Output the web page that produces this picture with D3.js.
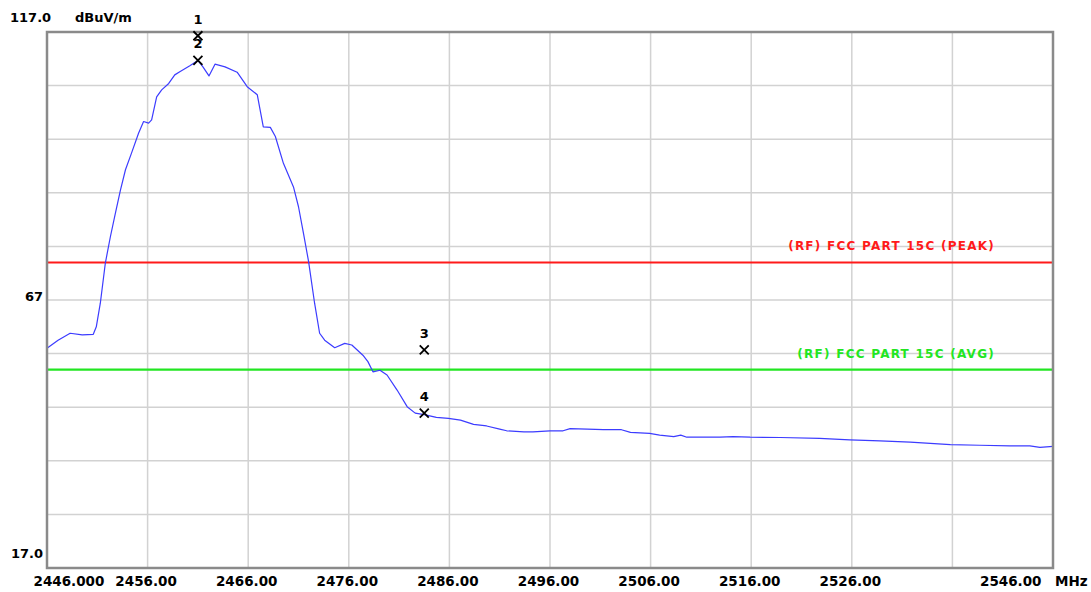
<!DOCTYPE html>
<html>
<head>
<meta charset="utf-8">
<script src="https://cdn.jsdelivr.net/npm/d3@7"></script>
<style>
  html, body { margin: 0; padding: 0; background: #ffffff; }
  svg { display: block; }
</style>
</head>
<body>
<svg id="chart" width="1091" height="592"></svg>
<script>
// Spectrum sweep, 2446 – 2546 MHz, field strength in dBuV/m
const freqMHz = [
  2446.0, 2447.1, 2448.3, 2449.5, 2450.6, 2450.9, 2451.3, 2451.8, 2452.3, 2452.8,
  2453.3, 2453.8, 2454.4, 2455.1, 2455.6, 2456.1, 2456.4, 2456.9, 2457.4, 2458.1,
  2458.7, 2459.2, 2460.2, 2461.0, 2461.5, 2462.1, 2462.7, 2463.7, 2464.9, 2465.9,
  2466.9, 2467.5, 2468.2, 2468.7, 2469.5, 2470.5, 2471.0, 2471.5, 2472.0, 2472.6,
  2473.1, 2473.6, 2474.6, 2475.6, 2476.3, 2477.4, 2477.9, 2478.4, 2479.1, 2479.8,
  2480.8, 2481.8, 2482.6, 2483.5, 2484.7, 2485.9, 2487.1, 2488.4, 2489.7, 2491.0,
  2491.7, 2493.4, 2494.3, 2496.0, 2497.3, 2498.0, 2499.7, 2501.3, 2503.1, 2504.0,
  2505.9, 2506.9, 2508.3, 2509.0, 2509.6, 2510.2, 2512.9, 2514.2, 2515.9, 2518.9,
  2522.8, 2525.8, 2528.8, 2531.8, 2535.8, 2538.7, 2541.7, 2543.7, 2544.7, 2546.0
];
const levelDb = [
  58.0, 59.5, 60.8, 60.5, 60.6, 62.0, 66.4, 73.9, 78.8, 83.2,
  87.5, 91.3, 94.4, 98.1, 100.3, 100.0, 100.6, 104.9, 106.2, 107.4,
  109.0, 109.6, 110.7, 111.7, 110.5, 108.8, 111.0, 110.5, 109.5, 106.8,
  105.3, 99.3, 99.2, 97.5, 92.5, 88.1, 84.4, 79.4, 74.2, 66.4,
  60.8, 59.5, 58.1, 58.9, 58.6, 56.7, 55.5, 53.6, 53.9, 53.0,
  50.2, 47.1, 45.9, 45.6, 45.1, 44.9, 44.6, 43.8, 43.5, 42.9,
  42.6, 42.4, 42.4, 42.6, 42.6, 43.0, 42.9, 42.8, 42.8, 42.3,
  42.1, 41.8, 41.5, 41.8, 41.4, 41.4, 41.4, 41.5, 41.4, 41.35,
  41.2, 40.9, 40.7, 40.5, 40.0, 39.9, 39.8, 39.8, 39.5, 39.7
];

// Limit lines
const limitNames = ["(RF) FCC PART 15C (PEAK)", "(RF) FCC PART 15C (AVG)"];
const limitValues = [74, 54];
const limitColors = ["#ff1a1a", "#22e622"];

// Markers
const markerIds = ["1", "2", "3", "4"];
const markerFreq = [2461.0, 2461.0, 2483.5, 2483.5];
const markerLevel = [116.3, 111.7, 57.7, 45.9];

// Axes
const xTickValues = [2446, 2456, 2466, 2476, 2486, 2496, 2506, 2516, 2526, 2546];
const xTickLabels = ["2446.000", "2456.00", "2466.00", "2476.00", "2486.00", "2496.00",
                     "2506.00", "2516.00", "2526.00", "2546.00"];
const xGridValues = [2456, 2466, 2476, 2486, 2496, 2506, 2516, 2526, 2536];
const yGridValues = [27, 37, 47, 57, 67, 77, 87, 97, 107];
const yTickValues = [117, 67, 17];
const yTickLabels = ["117.0", "67", "17.0"];
const yUnit = "dBuV/m";
const xUnit = "MHz";

const svg = d3.select("#chart");
const plotLeft = 47, plotRight = 1053, plotTop = 32, plotBottom = 568;

const x = d3.scaleLinear().domain([2446, 2546]).range([plotLeft, plotRight]);
const y = d3.scaleLinear().domain([17, 117]).range([plotBottom, plotTop]);

const labelFont = "'DejaVu Sans', 'Verdana', sans-serif";

// Grid
const grid = svg.append("g").attr("stroke", "#d2d2d2").attr("stroke-width", 1.5);
grid.selectAll("line.v").data(xGridValues).join("line")
  .attr("class", "v")
  .attr("x1", d => x(d)).attr("x2", d => x(d))
  .attr("y1", plotTop).attr("y2", plotBottom);
grid.selectAll("line.h").data(yGridValues).join("line")
  .attr("class", "h")
  .attr("x1", plotLeft).attr("x2", plotRight)
  .attr("y1", d => y(d)).attr("y2", d => y(d));

// Limit lines and their captions
const limits = limitValues.map((v, i) => ({ v, name: limitNames[i], color: limitColors[i] }));
svg.append("g").selectAll("line").data(limits).join("line")
  .attr("x1", plotLeft).attr("x2", plotRight)
  .attr("y1", d => y(d.v)).attr("y2", d => y(d.v))
  .attr("stroke", d => d.color).attr("stroke-width", 2.2);
svg.append("g").selectAll("text").data(limits).join("text")
  .attr("x", 995).attr("y", d => y(d.v) - 12)
  .attr("text-anchor", "end")
  .attr("fill", d => d.color)
  .attr("font-family", labelFont)
  .attr("font-weight", "bold")
  .attr("font-size", 12)
  .attr("letter-spacing", 1.25)
  .text(d => d.name);

// Trace
const trace = freqMHz.map((f, i) => [f, levelDb[i]]);
svg.append("path")
  .datum(trace)
  .attr("fill", "none")
  .attr("stroke", "#3c3cff")
  .attr("stroke-width", 1.2)
  .attr("stroke-linejoin", "round")
  .attr("d", d3.line().x(d => x(d[0])).y(d => y(d[1])));

// Frame
svg.append("rect")
  .attr("x", plotLeft).attr("y", plotTop)
  .attr("width", plotRight - plotLeft).attr("height", plotBottom - plotTop)
  .attr("fill", "none").attr("stroke", "#8a8a8a").attr("stroke-width", 2.5);

// Markers
const markers = markerIds.map((id, i) => ({ id, f: markerFreq[i], v: markerLevel[i] }));
const mk = svg.append("g").selectAll("g").data(markers).join("g")
  .attr("transform", d => `translate(${x(d.f)},${y(d.v)})`);
mk.append("path")
  .attr("d", "M-4.5,-4.5L4.5,4.5M-4.5,4.5L4.5,-4.5")
  .attr("stroke", "#000").attr("stroke-width", 1.8);
mk.append("text")
  .attr("x", 0).attr("y", -12)
  .attr("text-anchor", "middle")
  .attr("font-family", labelFont).attr("font-weight", "bold").attr("font-size", 13)
  .text(d => d.id);

// X axis labels
const xAxis = d3.axisBottom(x)
  .tickValues(xTickValues)
  .tickFormat((d, i) => xTickLabels[i])
  .tickSize(0)
  .tickPadding(0);
const gx = svg.append("g").attr("transform", `translate(0,${plotBottom})`).call(xAxis);
gx.select(".domain").remove();
gx.selectAll("text")
  .attr("font-family", labelFont).attr("font-weight", "bold").attr("font-size", 13.5)
  .attr("fill", "#000")
  .attr("dy", 0).attr("y", 18)
  .attr("text-anchor", (d, i) => i === 0 ? "start" : (i === xTickValues.length - 1 ? "end" : "middle"))
  .attr("dx", (d, i) => i === 0 ? -14 : (i === xTickValues.length - 1 ? -12 : -2));
svg.append("text")
  .attr("x", 1055).attr("y", plotBottom + 18)
  .attr("font-family", labelFont).attr("font-weight", "bold").attr("font-size", 13.5)
  .text(xUnit);

// Y axis labels
const yLabelPos = [{ anchor: "start", dx: 10, dy: -10 }, { anchor: "end", dx: 43, dy: 1 }, { anchor: "end", dx: 43, dy: -10 }];
svg.append("g").selectAll("text").data(yTickValues).join("text")
  .attr("x", (d, i) => yLabelPos[i].dx)
  .attr("y", (d, i) => y(d) + yLabelPos[i].dy)
  .attr("text-anchor", (d, i) => yLabelPos[i].anchor)
  .attr("font-family", labelFont).attr("font-weight", "bold").attr("font-size", 13)
  .text((d, i) => yTickLabels[i]);
svg.append("text")
  .attr("x", 75).attr("y", 22)
  .attr("font-family", labelFont).attr("font-weight", "bold").attr("font-size", 13)
  .text(yUnit);
</script>
</body>
</html>
